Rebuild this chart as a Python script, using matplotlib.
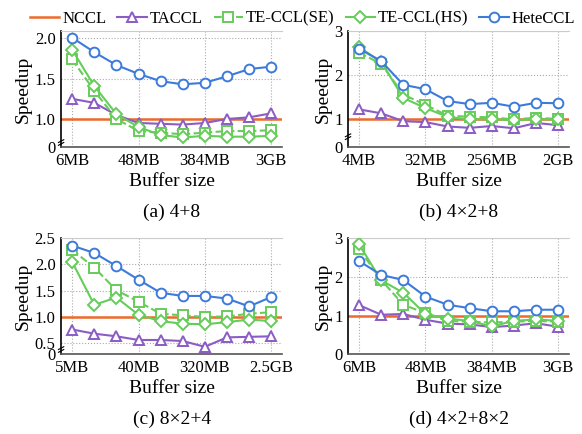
import matplotlib
matplotlib.use("Agg")
import matplotlib.pyplot as plt

plt.rcParams['font.family'] = ['Liberation Serif', 'DejaVu Serif']

# x tick labels (10 buffer sizes each, every 3rd labelled)
XTICKS_A = ["6MB", "48MB", "384MB", "3GB"]
XTICKS_B = ["4MB", "32MB", "256MB", "2GB"]
XTICKS_C = ["5MB", "40MB", "320MB", "2.5GB"]
XTICKS_D = ["6MB", "48MB", "384MB", "3GB"]

NCCL_BASE = 1.0

# (a) 4+8
taccl_a = [1.25, 1.20, 1.05, 0.95, 0.94, 0.93, 0.95, 1.00, 1.02, 1.07]
se_a    = [1.74, 1.35, 1.00, 0.85, 0.83, 0.81, 0.83, 0.85, 0.85, 0.86]
hs_a    = [1.86, 1.41, 1.06, 0.90, 0.80, 0.77, 0.79, 0.78, 0.78, 0.79]
hete_a  = [2.01, 1.83, 1.67, 1.56, 1.47, 1.43, 1.45, 1.53, 1.62, 1.65]

# (b) 4x2+8
taccl_b = [1.22, 1.13, 0.95, 0.93, 0.83, 0.80, 0.84, 0.79, 0.91, 0.86]
se_b    = [2.51, 2.26, 1.56, 1.32, 1.08, 1.05, 1.04, 0.99, 1.03, 1.00]
hs_b    = [2.64, 2.30, 1.48, 1.25, 1.05, 0.99, 1.00, 0.97, 1.00, 0.99]
hete_b  = [2.60, 2.32, 1.78, 1.68, 1.41, 1.34, 1.37, 1.28, 1.37, 1.36]

# (c) 8x2+4
taccl_c = [0.76, 0.68, 0.63, 0.56, 0.56, 0.54, 0.43, 0.61, 0.62, 0.63]
se_c    = [2.28, 1.94, 1.51, 1.29, 1.06, 1.03, 1.00, 1.01, 1.06, 1.09]
hs_c    = [2.05, 1.23, 1.37, 1.04, 0.92, 0.87, 0.86, 0.90, 0.95, 0.92]
hete_c  = [2.36, 2.22, 1.97, 1.71, 1.46, 1.40, 1.40, 1.35, 1.20, 1.38]

# (d) 4x2+8x2
taccl_d = [1.27, 1.02, 1.04, 0.89, 0.79, 0.77, 0.70, 0.74, 0.80, 0.71]
se_d    = [2.72, 1.92, 1.28, 1.06, 0.86, 0.84, 0.82, 0.84, 0.86, 0.84]
hs_d    = [2.84, 1.91, 1.59, 1.04, 0.92, 0.86, 0.72, 0.86, 0.90, 0.86]
hete_d  = [2.41, 2.05, 1.92, 1.49, 1.28, 1.19, 1.11, 1.11, 1.15, 1.15]

C_NCCL = "#EE6A2C"
C_TACCL = "#8B5CC4"
C_TE = "#66CC5A"
C_HETE = "#3D7BDA"

W, H = 582, 434
fig = plt.figure(figsize=(W / 100, H / 100), dpi=100)


def panel(rect, taccl, se, hs, hete, xlabels, ylim, yticks, yticklabels,
          caption, brk=None):
    ax = fig.add_axes(rect)
    x = list(range(len(hete)))
    mk = dict(markersize=7, markerfacecolor="white", markeredgewidth=1.4,
              linewidth=1.5)
    ax.axhline(NCCL_BASE, color=C_NCCL, lw=1.8, label="NCCL", zorder=2)
    ax.plot(x, taccl, color=C_TACCL, marker="^", label="TACCL", zorder=3, **mk)
    ax.plot(x, se, color=C_TE, marker="s", ls="--", label="TE-CCL(SE)",
            zorder=3, **mk)
    ax.plot(x, hs, color=C_TE, marker="D", label="TE-CCL(HS)", zorder=3,
            markersize=6, markerfacecolor="white", markeredgewidth=1.4,
            linewidth=1.5)
    ax.plot(x, hete, color=C_HETE, marker="o", label="HeteCCL", zorder=4, **mk)

    ax.set_xlim(-0.5, 9.5)
    ax.set_ylim(*ylim)
    ax.set_xticks([0, 3, 6, 9])
    ax.set_xticklabels(xlabels, fontsize=12)
    ax.set_yticks(yticks)
    ax.set_yticklabels(yticklabels, fontsize=12)
    ax.tick_params(length=0)
    ax.tick_params(axis="y", pad=4)
    ax.tick_params(axis="x", pad=4)
    ax.grid(True, ls=":", color="#AAAAAA", lw=0.8)
    ax.set_axisbelow(True)
    ax.spines["right"].set_visible(False)
    ax.spines["top"].set_color("#CCCCCC")
    ax.spines["left"].set_color("black")
    ax.spines["bottom"].set_color("#555555")
    ax.spines["left"].set_linewidth(1.2)
    ax.spines["bottom"].set_linewidth(1.2)
    ax.set_xlabel("Buffer size", fontsize=14, labelpad=3)
    ax.set_ylabel("Speedup", fontsize=14, labelpad=2)
    if brk is not None:
        for dy in (-0.012, 0.012):
            ax.plot([-0.012, 0.012], [brk + dy - 0.012, brk + dy + 0.012],
                    transform=ax.transAxes, color="black", lw=0.8,
                    clip_on=False, zorder=5)
    ax.text(0.5, -0.56, caption, transform=ax.transAxes, ha="center",
            va="center", fontsize=14)
    return ax


ax_a = panel([0.105, 0.661, 0.380, 0.267], taccl_a, se_a, hs_a, hete_a,
             XTICKS_A, (0.65, 2.09), [0.65, 1.0, 1.5, 2.0],
             ["0", "1.0", "1.5", "2.0"], "(a) 4+8", brk=0.04)
panel([0.598, 0.661, 0.380, 0.267], taccl_b, se_b, hs_b, hete_b,
      XTICKS_B, (0.36, 3.0), [0.36, 1, 2, 3], ["0", "1", "2", "3"],
      "(b) 4×2+8", brk=0.09)
panel([0.105, 0.184, 0.380, 0.267], taccl_c, se_c, hs_c, hete_c,
      XTICKS_C, (0.29, 2.5), [0.29, 0.5, 1.0, 1.5, 2.0, 2.5],
      ["0", "0.5", "1.0", "1.5", "2.0", "2.5"], "(c) 8×2+4", brk=0.04)
panel([0.598, 0.184, 0.380, 0.267], taccl_d, se_d, hs_d, hete_d,
      XTICKS_D, (0, 3.0), [0, 1, 2, 3], ["0", "1", "2", "3"],
      "(d) 4×2+8×2")

handles, labels = ax_a.get_legend_handles_labels()
fig.legend(handles, labels, loc="upper center", bbox_to_anchor=(0.52, 1.01),
           ncol=5, frameon=False, fontsize=12, handlelength=1.75,
           columnspacing=0.65, handletextpad=0.2)

fig.savefig("out.png", dpi=100)
